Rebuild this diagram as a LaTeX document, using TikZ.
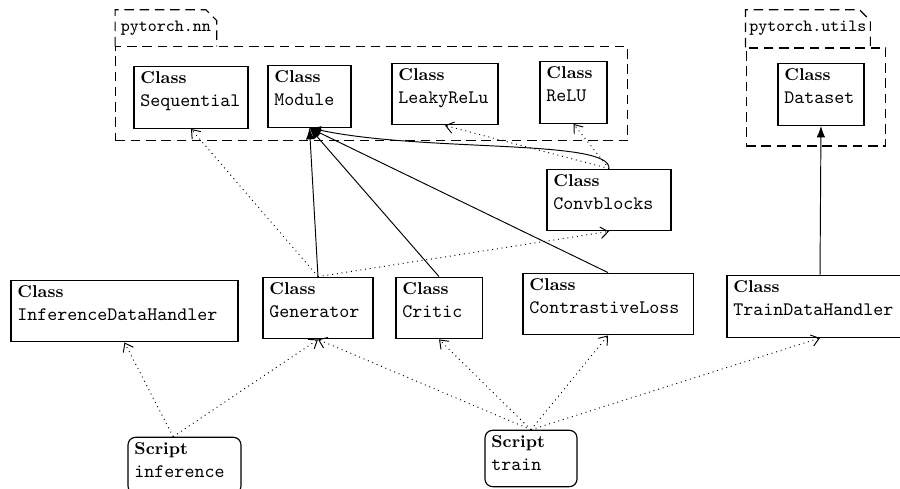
\documentclass[tikz,border=0pt]{standalone}
\usetikzlibrary{positioning, arrows.meta}

\begin{document}
\begin{tikzpicture}[
  cls/.style={draw, rectangle, line width=0.6pt, align=left, inner xsep=3.4pt, inner ysep=2.5pt,
    text width=#1-6.8pt, text height=6.6pt, text depth=20.8pt},
  script/.style={cls=#1, rounded corners=4pt, text depth=18pt},
  pkgline/.style={dash pattern=on 5pt off 3pt, line width=0.6pt},
  pkg/.style={draw, pkgline},
  pkgtab/.style={inner sep=0pt, font=\small\ttfamily},
  uses/.style={line width=0.5pt, dotted, -{Straight Barb[length=4pt,width=6pt]}},
  extends/.style={line width=0.5pt, -{Latex[length=6pt,width=4.5pt]}},
]
\useasboundingbox (0,0) rectangle (16.605,-9.004);

% Package pytorch.nn
\node[pkg, minimum width=9.45cm, minimum height=1.73cm] (nn) at (6.86,-1.73) {};
\node[pkgtab, above right=0pt of nn.north west, minimum width=1.86cm, minimum height=0.66cm] (nntab) {pytorch.nn};
\draw[pkgline] (nntab.south west) |- ([xshift=-0.2cm]nntab.north east) -- ([yshift=-0.2cm]nntab.north east) -- (nntab.south east);

\node[cls=59.9pt] (seq) at (3.524,-1.799) {\textbf{\small Class}\\\texttt{Sequential}};
\node[cls=43.6pt] (module) at (5.710,-1.780) {\textbf{\small Class}\\\texttt{Module}};
\node[cls=55.7pt] (leaky) at (8.210,-1.734) {\textbf{\small Class}\\\texttt{LeakyReLu}};
\node[cls=35.2pt] (relu) at (10.581,-1.707) {\textbf{\small Class}\\\texttt{ReLU}};

% Package pytorch.utils
\node[pkg, minimum width=2.58cm, minimum height=1.81cm] (utils) at (15.055,-1.79) {};
\node[pkgtab, above right=0pt of utils.north west, minimum width=2.29cm, minimum height=0.68cm] (utilstab) {pytorch.utils};
\draw[pkgline] (utilstab.south west) |- ([xshift=-0.2cm]utilstab.north east) -- ([yshift=-0.2cm]utilstab.north east) -- (utilstab.south east);

\node[cls=45.2pt] (dataset) at (15.147,-1.744) {\textbf{\small Class}\\\texttt{Dataset}};

% Own classes
\node[cls=65.1pt] (conv) at (11.236,-3.690) {\textbf{\small Class}\\\texttt{Convblocks}};
\node[cls=119.2pt] (idh) at (2.297,-5.738) {\textbf{\small Class}\\\texttt{InferenceDataHandler}};
\node[cls=57.8pt] (gen) at (5.867,-5.683) {\textbf{\small Class}\\\texttt{Generator}};
\node[cls=45.2pt] (critic) at (8.100,-5.683) {\textbf{\small Class}\\\texttt{Critic}};
\node[cls=89.3pt] (closs) at (11.218,-5.609) {\textbf{\small Class}\\\texttt{ContrastiveLoss}};
\node[cls=97.7pt] (tdh) at (15.129,-5.655) {\textbf{\small Class}\\\texttt{TrainDataHandler}};

% Scripts
\node[script=59.3pt] (infer) at (3.404,-8.588) {\textbf{\small Script}\\\texttt{inference}};
\node[script=48.3pt] (train) at (9.797,-8.459) {\textbf{\small Script}\\\texttt{train}};

% Inheritance
\draw[extends] (gen.north) -- (module.south);
\draw[extends] (critic.north) -- (module.south);
\draw[extends] (closs.north) -- (module.south);
\draw[extends] (conv.north) .. controls +(0.05,0.55) and +(2.1,-0.45) .. (module.south);
\draw[extends] (tdh.north) -- (dataset.south);

% Usage
\draw[uses] (gen.north) -- (seq.south);
\draw[uses] (gen.north) -- (conv.south);
\draw[uses] (conv.north) -- (leaky.south);
\draw[uses] (conv.north) -- (relu.south);
\draw[uses] ([xshift=-0.21cm]infer.north) -- (idh.south);
\draw[uses] ([xshift=-0.21cm]infer.north) -- (gen.south);
\draw[uses] (train.north) -- (gen.south);
\draw[uses] (train.north) -- (critic.south);
\draw[uses] (train.north) -- (closs.south);
\draw[uses] (train.north) -- (tdh.south);

\end{tikzpicture}
\end{document}
